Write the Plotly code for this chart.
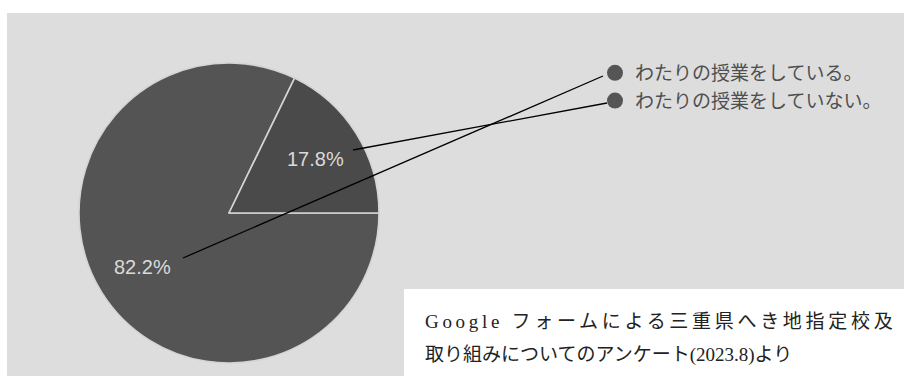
import math
import plotly.graph_objects as go

# ---- data ----
labels = ["わたりの授業をしている。", "わたりの授業をしていない。"]
values = [82.2, 17.8]
slice_colors = ["#545454", "#4a4a4a"]
source_lines = ["Google フォームによる三重県へき地指定校及",
                "取り組みについてのアンケート(2023.8)より"]
source_spacing = ["3.7px", "0px"]

# ---- layout constants (pixels) ----
W, H = 904, 376
cx, cy, R = 229, 213, 150
rotation = 90
label_r = 0.68

fig = go.Figure()

fig.add_trace(go.Pie(
    labels=labels, values=values, sort=False, direction="clockwise",
    rotation=rotation,
    marker=dict(colors=slice_colors, line=dict(color="#d4d4d4", width=1.6)),
    textinfo="none", hoverinfo="label+percent", showlegend=False,
    domain=dict(x=[(cx - R) / W, (cx + R) / W],
                y=[1 - (cy + R) / H, 1 - (cy - R) / H]),
))

# legend entries with round markers
for lab in labels:
    fig.add_trace(go.Scatter(
        x=[None], y=[None], mode="markers", name=lab,
        marker=dict(size=17, color="#555555"), hoverinfo="skip",
    ))

# percentage labels placed at the middle angle of each slice
total = sum(values)
annotations = []
cum = 0.0
for v in values:
    mid = math.radians(rotation + (cum + v / 2) / total * 360)
    px = cx + label_r * R * math.sin(mid)
    py = cy - label_r * R * math.cos(mid)
    annotations.append(dict(
        x=px / W, y=1 - py / H, xref="paper", yref="paper",
        text=f"{v / total * 100:.1f}%", showarrow=False,
        xanchor="center", yanchor="middle",
        font=dict(family="Liberation Sans, Arial, sans-serif", size=20, color="#dadada"),
    ))
    cum += v

# source note
for i, line in enumerate(source_lines):
    annotations.append(dict(
        x=423 / W, y=1 - (321 + 34 * i) / H, xref="paper", yref="paper",
        text=f'<span style="letter-spacing:{source_spacing[i]}">{line}</span>',
        showarrow=False, xanchor="left", yanchor="middle",
        font=dict(family="Liberation Serif, 'Noto Sans CJK JP', serif", size=19, color="#222222"),
    ))

shapes = [
    # gray chart background
    dict(type="rect", xref="paper", yref="paper", x0=7 / W, x1=1, y0=0, y1=1 - 13 / H,
         fillcolor="#dddddd", line=dict(width=0), layer="below"),
    # white note box
    dict(type="rect", xref="paper", yref="paper", x0=404 / W, x1=1.01, y0=-0.01, y1=1 - 289 / H,
         fillcolor="#ffffff", line=dict(width=0), layer="above"),
    # leader lines
    dict(type="line", xref="paper", yref="paper", x0=603 / W, y0=1 - 76 / H, x1=183 / W, y1=1 - 258 / H,
         line=dict(color="#000000", width=1.3), layer="above"),
    dict(type="line", xref="paper", yref="paper", x0=607 / W, y0=1 - 103 / H, x1=353 / W, y1=1 - 150 / H,
         line=dict(color="#000000", width=1.3), layer="above"),
]

fig.update_layout(
    width=W, height=H, margin=dict(l=0, r=0, t=0, b=0),
    paper_bgcolor="#ffffff", plot_bgcolor="rgba(0,0,0,0)",
    xaxis=dict(visible=False), yaxis=dict(visible=False),
    showlegend=True,
    legend=dict(x=595 / W, y=1 - 54 / H, xanchor="left", yanchor="top",
                bgcolor="rgba(0,0,0,0)", itemwidth=30,
                font=dict(family="'Noto Sans CJK JP', sans-serif", size=19, color="#4f4f4f")),
    annotations=annotations, shapes=shapes,
)

fig.write_html("out.html", config={"displayModeBar": False})
